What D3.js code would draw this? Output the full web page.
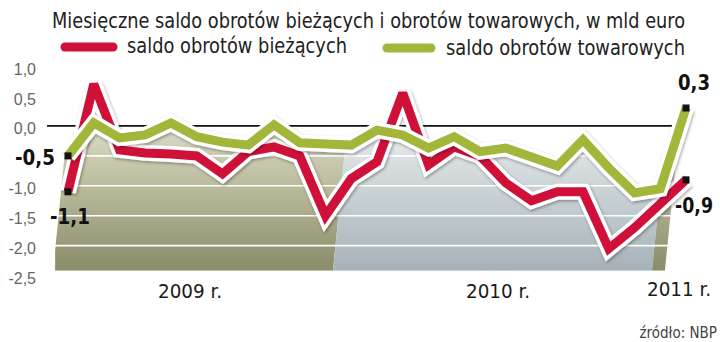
<!DOCTYPE html>
<html>
<head>
<meta charset="utf-8">
<script src="https://cdn.jsdelivr.net/npm/d3@7"></script>
<style>
    body { margin: 0; background: #fff; }
    svg { display: block; font-family: "Liberation Sans Narrow", "DejaVu Sans Condensed", Roboto, "Noto Sans", sans-serif; }
</style>
</head>
<body>
<svg id="chart" width="720" height="342"></svg>
<script>
// miesiace od stycznia 2009 do stycznia 2011
var months = [
    '2009-01', '2009-02', '2009-03', '2009-04', '2009-05', '2009-06',
    '2009-07', '2009-08', '2009-09', '2009-10', '2009-11', '2009-12',
    '2010-01', '2010-02', '2010-03', '2010-04', '2010-05', '2010-06',
    '2010-07', '2010-08', '2010-09', '2010-10', '2010-11', '2010-12',
    '2011-01'
];

// saldo obrotow biezacych, mld euro
var biezace = [
    -1.1, 0.7, -0.4, -0.45, -0.47, -0.5, -0.8, -0.43, -0.35, -0.5, -1.5, -0.88,
    -0.6, 0.55, -0.65, -0.35, -0.5, -0.95, -1.25, -1.1, -1.1, -2.05, -1.7, -1.3,
    -0.9
];

// saldo obrotow towarowych, mld euro
var towarowe = [
    -0.5, 0.05, -0.2, -0.15, 0.05, -0.18, -0.27, -0.32, 0.02, -0.28, -0.3, -0.32,
    -0.07, -0.15, -0.37, -0.18, -0.43, -0.37, -0.52, -0.67, -0.23, -0.7, -1.12, -1.05,
    0.3
];

var yTicks = [1, 0.5, 0, -0.5, -1, -1.5, -2, -2.5];
var gridValues = [-0.5, -1, -1.5, -2];
var years = ['2009 r.', '2010 r.', '2011 r.'];

var title = 'Miesięczne saldo obrotów bieżących i obrotów towarowych, w mld euro';
var legendNames = ['saldo obrotów bieżących', 'saldo obrotów towarowych'];

var red = '#cf1139';
var green = '#a2b63a';

var fmt = v => d3.format('.1f')(v).replace('.', ',').replace('\u2212', '-');

var svg = d3.select('#chart');

var x = d3.scaleLinear().domain([0, months.length - 1]).range([68, 686]);
var y = d3.scaleLinear().domain([-2.5, 1]).range([275.6, 66.1]);

var yBottom = y(-2.42);
var slant = 0.1;
// edges of the year bands (in month units, at the bottom of the area)
var bandEdges = [-0.58, 10.29, 22.68, 23.18];
var bandFills = ['olive', 'blue', 'olive'];

var defs = svg.append('defs');

var gOlive = defs.append('linearGradient')
    .attr('id', 'olive')
    .attr('gradientUnits', 'userSpaceOnUse')
    .attr('x1', 0).attr('x2', 0)
    .attr('y1', y(0.1)).attr('y2', yBottom);
gOlive.append('stop').attr('offset', 0).attr('stop-color', '#e0dfd0');
gOlive.append('stop').attr('offset', 0.35).attr('stop-color', '#c2c2a6');
gOlive.append('stop').attr('offset', 1).attr('stop-color', '#8a8b68');

var gBlue = defs.append('linearGradient')
    .attr('id', 'blue')
    .attr('gradientUnits', 'userSpaceOnUse')
    .attr('x1', 0).attr('x2', 0)
    .attr('y1', y(0.1)).attr('y2', yBottom);
gBlue.append('stop').attr('offset', 0).attr('stop-color', '#eef1f1');
gBlue.append('stop').attr('offset', 0.35).attr('stop-color', '#d3dadc');
gBlue.append('stop').attr('offset', 1).attr('stop-color', '#a5b2b8');

var shadow = defs.append('filter')
    .attr('id', 'shadow')
    .attr('x', '-5%').attr('y', '-20%')
    .attr('width', '110%').attr('height', '140%');
shadow.append('feDropShadow')
    .attr('dx', 1).attr('dy', 1.5)
    .attr('stdDeviation', 1.6)
    .attr('flood-color', '#000')
    .attr('flood-opacity', 0.35);

// year band clips, slanted like in the print
bandEdges.slice(0, -1).forEach((e, k) => {
    var a = x(e);
    var b = x(bandEdges[k + 1]);
    var top = y(1);
    var d = slant * (yBottom - top);
    defs.append('clipPath')
        .attr('id', 'band' + k)
        .append('polygon')
        .attr('points', [[a, yBottom], [b, yBottom], [b + d, top], [a + d, top]].join(' '));
});

// area under the goods balance line
var areaPts = [{ i: -0.5, v: towarowe[0] }]
    .concat(towarowe.map((v, i) => ({ i: i, v: v })));

var area = d3.area()
    .x(d => x(d.i))
    .y0(yBottom)
    .y1(d => y(d.v));

bandFills.forEach((f, k) => {
    svg.append('path')
        .datum(areaPts)
        .attr('clip-path', 'url(#band' + k + ')')
        .attr('fill', 'url(#' + f + ')')
        .attr('d', area);
});

// white grid lines
svg.append('g')
    .selectAll('line')
    .data(gridValues)
    .enter()
    .append('line')
    .attr('x1', 40)
    .attr('x2', 705)
    .attr('y1', d => y(d))
    .attr('y2', d => y(d))
    .attr('stroke', '#fff')
    .attr('stroke-width', 1.6);

// zero line
svg.append('line')
    .attr('x1', 47)
    .attr('x2', 672)
    .attr('y1', y(0))
    .attr('y2', y(0))
    .attr('stroke', '#111')
    .attr('stroke-width', 1.8);

// y axis labels (the first green value label stands in for -0,5)
var yAxis = svg.append('g')
    .attr('transform', 'translate(36,0)')
    .call(d3.axisLeft(y)
        .tickValues(yTicks.filter(t => t != towarowe[0]))
        .tickSize(0)
        .tickPadding(0)
        .tickFormat(fmt));
yAxis.select('.domain').remove();
yAxis.selectAll('text')
    .attr('dy', '0.5em')
    .attr('fill', '#666')
    .style('font-size', '16px')
    .style('font-family', 'inherit');

// lines: red below, green on top
var line = d3.line()
    .x((d, i) => x(i))
    .y(d => y(d));

[[biezace, red], [towarowe, green]].forEach(s => {
    svg.append('path')
        .datum(s[0])
        .attr('fill', 'none')
        .attr('stroke', '#fff')
        .attr('stroke-width', 16)
        .attr('stroke-linejoin', 'miter')
        .attr('stroke-miterlimit', 2.5)
        .attr('filter', 'url(#shadow)')
        .attr('d', line);
    svg.append('path')
        .datum(s[0])
        .attr('fill', 'none')
        .attr('stroke', s[1])
        .attr('stroke-width', 9)
        .attr('stroke-linejoin', 'miter')
        .attr('stroke-miterlimit', 2.5)
        .attr('d', line);
});

// end markers
var last = months.length - 1;
var ends = [
    [0, biezace[0]], [0, towarowe[0]],
    [last, biezace[last]], [last, towarowe[last]]
];
svg.append('g')
    .selectAll('rect')
    .data(ends)
    .enter()
    .append('rect')
    .attr('x', d => x(d[0]) - 3.5)
    .attr('y', d => y(d[1]) - 3.5)
    .attr('width', 7)
    .attr('height', 7)
    .attr('fill', '#111');

// value labels at the ends
var endLabels = [
    { v: towarowe[0], x: x(0) - 13, y: y(towarowe[0]) + 9, anchor: 'end', w: 40 },
    { v: biezace[0], x: x(0) - 18, y: y(biezace[0]) + 32, anchor: 'start', w: 40 },
    { v: towarowe[last], x: x(last) + 8, y: y(towarowe[last]) - 18, anchor: 'middle', w: 32 },
    { v: biezace[last], x: x(last) - 11, y: y(biezace[last]) + 33, anchor: 'start', w: 38 }
];
svg.append('g')
    .selectAll('text')
    .data(endLabels)
    .enter()
    .append('text')
    .attr('x', d => d.x)
    .attr('y', d => d.y)
    .attr('text-anchor', d => d.anchor)
    .attr('textLength', d => d.w)
    .attr('lengthAdjust', 'spacingAndGlyphs')
    .attr('font-size', 21)
    .attr('font-weight', 'bold')
    .attr('fill', '#111')
    .text(d => fmt(d.v));

// year labels
var yearX = [190, 498, 679];
svg.append('g')
    .selectAll('text')
    .data(years)
    .enter()
    .append('text')
    .attr('x', (d, i) => yearX[i])
    .attr('y', (d, i) => (i == 2 ? 296 : 298))
    .attr('text-anchor', 'middle')
    .attr('textLength', 64)
    .attr('lengthAdjust', 'spacingAndGlyphs')
    .attr('font-size', 20)
    .attr('fill', '#1a1a1a')
    .text(d => d);

// title
svg.append('text')
    .attr('x', 52)
    .attr('y', 28)
    .attr('textLength', 633)
    .attr('lengthAdjust', 'spacingAndGlyphs')
    .attr('font-size', 21)
    .attr('fill', '#222')
    .text(title);

// legend
var legend = [
    { name: legendNames[0], color: red, x1: 65, x2: 113, sy: 47, tx: 127, ty: 53, w: 220 },
    { name: legendNames[1], color: green, x1: 387, x2: 431, sy: 48, tx: 446, ty: 55, w: 239 }
];
legend.forEach(l => {
    svg.append('line')
        .attr('x1', l.x1).attr('x2', l.x2)
        .attr('y1', l.sy).attr('y2', l.sy)
        .attr('stroke', l.color)
        .attr('stroke-width', 9)
        .attr('stroke-linecap', 'round');
    svg.append('text')
        .attr('x', l.tx)
        .attr('y', l.ty)
        .attr('textLength', l.w)
        .attr('lengthAdjust', 'spacingAndGlyphs')
        .attr('font-size', 21)
        .attr('fill', '#222')
        .text(l.name);
});

// source
svg.append('text')
    .attr('x', 717)
    .attr('y', 338)
    .attr('text-anchor', 'end')
    .attr('font-size', 15)
    .attr('fill', '#444')
    .text('źródło: NBP');
</script>
</body>
</html>
